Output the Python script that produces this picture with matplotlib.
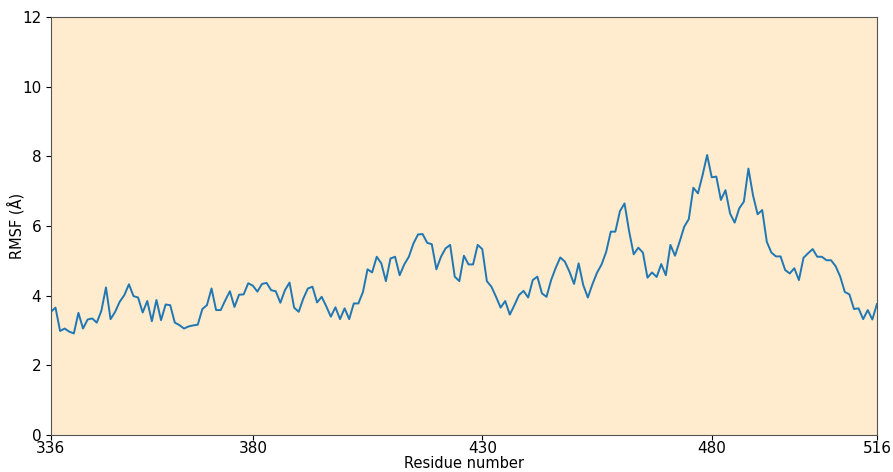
import numpy as np
import matplotlib
matplotlib.use("Agg")
import matplotlib.pyplot as plt

# Per-residue RMSF (Å), residues 336-516
residues = np.arange(336, 517)
rmsf = [
    3.54, 3.66, 2.99, 3.06, 2.97, 2.92, 3.51, 3.06, 3.32, 3.35,
    3.23, 3.57, 4.24, 3.33, 3.54, 3.83, 4.02, 4.33, 3.99, 3.95,
    3.52, 3.85, 3.27, 3.88, 3.30, 3.75, 3.73, 3.23, 3.16, 3.06,
    3.12, 3.15, 3.17, 3.62, 3.73, 4.21, 3.59, 3.59, 3.87, 4.13,
    3.68, 4.03, 4.04, 4.36, 4.29, 4.12, 4.34, 4.37, 4.16, 4.13,
    3.80, 4.16, 4.38, 3.66, 3.54, 3.92, 4.21, 4.26, 3.81, 3.97,
    3.70, 3.40, 3.67, 3.33, 3.64, 3.33, 3.78, 3.78, 4.11, 4.76,
    4.67, 5.12, 4.93, 4.42, 5.07, 5.12, 4.59, 4.90, 5.12, 5.50,
    5.76, 5.77, 5.52, 5.48, 4.76, 5.12, 5.36, 5.46, 4.55, 4.42,
    5.15, 4.90, 4.90, 5.46, 5.34, 4.42, 4.26, 3.97, 3.66, 3.85,
    3.46, 3.73, 4.02, 4.14, 3.95, 4.45, 4.55, 4.07, 3.97, 4.45,
    4.80, 5.10, 4.98, 4.69, 4.34, 4.93, 4.31, 3.95, 4.33, 4.66,
    4.90, 5.26, 5.84, 5.84, 6.43, 6.65, 5.85, 5.19, 5.38, 5.24,
    4.52, 4.67, 4.54, 4.91, 4.59, 5.46, 5.15, 5.55, 5.98, 6.20,
    7.10, 6.94, 7.46, 8.04, 7.40, 7.42, 6.75, 7.03, 6.36, 6.10,
    6.51, 6.70, 7.65, 6.88, 6.34, 6.46, 5.55, 5.24, 5.13, 5.13,
    4.74, 4.64, 4.79, 4.45, 5.09, 5.22, 5.34, 5.12, 5.12, 5.02,
    5.02, 4.85, 4.55, 4.11, 4.04, 3.62, 3.64, 3.33, 3.59, 3.32,
    3.76,
]
xticks = [336, 380, 430, 480, 516]
yticks = [0, 2, 4, 6, 8, 10, 12]

fig = plt.figure(figsize=(8.93, 4.72), dpi=100)
ax = fig.add_axes([0.057, 0.078, 0.925, 0.886])
ax.set_facecolor("#FFEBCD")
ax.plot(residues, rmsf, color="#1f77b4", linewidth=1.4)

ax.set_xlim(336, 516)
ax.set_ylim(0, 12)
ax.set_xticks(xticks)
ax.set_yticks(yticks)
ax.tick_params(axis="y", labelsize=11)
ax.tick_params(axis="x", labelsize=11, pad=1)
ax.set_xlabel("Residue number", fontsize=10.5, labelpad=0)
ax.set_ylabel("RMSF (Å)", fontsize=10.5)
ax.yaxis.set_label_coords(-0.032, 0.5)
for s in ax.spines.values():
    s.set_color("#555555")

fig.savefig("out.png", dpi=100)
